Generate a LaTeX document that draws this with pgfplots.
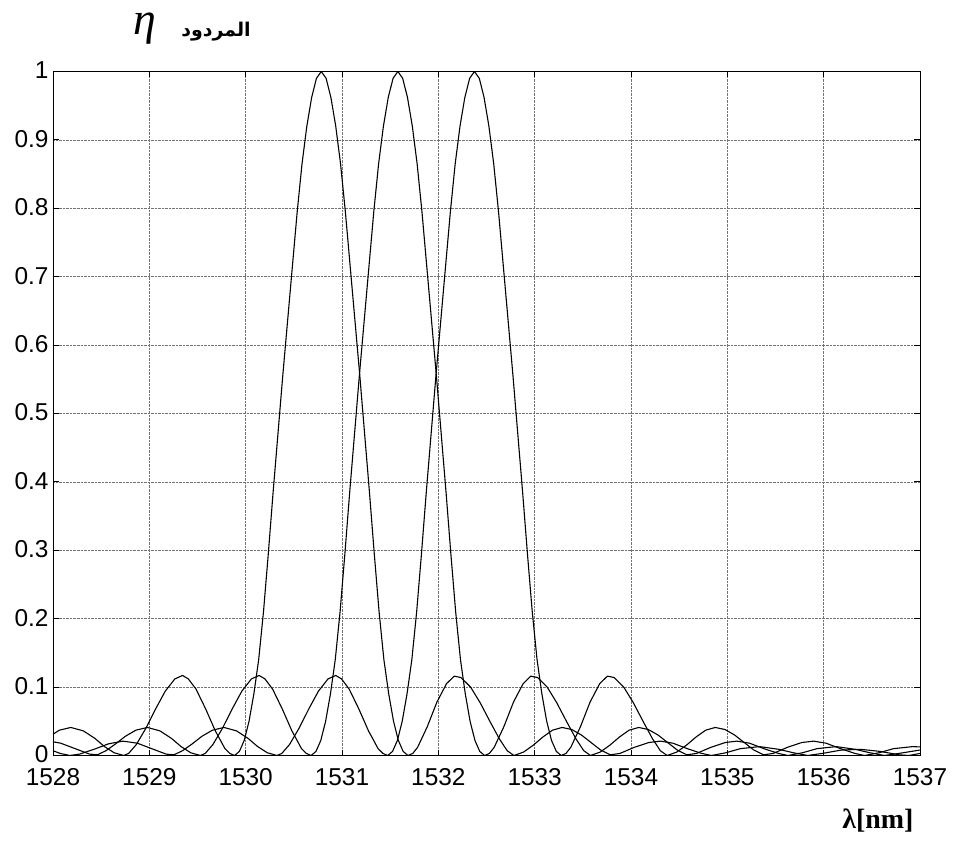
\documentclass[border=0pt]{standalone}
\usepackage{pgfplots}
\pgfplotsset{compat=1.18}
\usepackage{fontspec}
\setmainfont{Liberation Sans}
\newfontfamily\seriffont{Liberation Serif}
\newfontfamily\arabicfont[Script=Arabic]{DejaVu Sans}
\TeXXeTstate=1
\begin{document}
\begin{tikzpicture}
\path[use as bounding box] (-53bp,-92.5bp) rectangle (901bp,755.5bp);
\begin{axis}[
  at={(0,0)}, anchor=south west,
  scale only axis, width=867bp, height=684bp,
  xmin=1528, xmax=1537, ymin=0, ymax=1,
  xtick={1528,1529,1530,1531,1532,1533,1534,1535,1536,1537},
  xticklabels={1528,1529,1530,1531,1532,1533,1534,1535,1536,1537},
  ytick={0,0.1,0.2,0.3,0.4,0.5,0.6,0.7,0.8,0.9,1},
  yticklabels={0,0.1,0.2,0.3,0.4,0.5,0.6,0.7,0.8,0.9,1},
  tick align=inside, xtick pos=both, ytick pos=both,
  major tick length=6bp,
  grid=major,
  major grid style={densely dotted, black!55, line width=0.7bp},
  axis line style={black, line width=0.9bp},
  tick style={black, line width=0.8bp},
  tick label style={font=\fontsize{24.5}{29}\selectfont},
  xticklabel style={yshift=-9bp},
  yticklabel style={xshift=-1bp, yshift=1bp},
  /pgf/number format/assume math mode=true,
  clip=true,
]
\addplot[black, line width=1.1bp] coordinates {
(1528,0.031) (1528.065,0.037) (1528.185,0.041) (1528.315,0.036) (1528.435,0.025)
(1528.535,0.013) (1528.635,0.004) (1528.735,0) (1528.785,0.003) (1528.865,0.016)
(1528.965,0.04) (1529.065,0.068) (1529.165,0.094) (1529.265,0.112) (1529.345,0.117)
(1529.405,0.112) (1529.485,0.097) (1529.585,0.068) (1529.685,0.036) (1529.785,0.01)
(1529.835,0.003) (1529.885,0) (1529.935,0.006) (1529.985,0.022) (1530.035,0.05)
(1530.085,0.09) (1530.135,0.14) (1530.185,0.21) (1530.235,0.295) (1530.285,0.385)
(1530.335,0.47) (1530.385,0.555) (1530.435,0.635) (1530.485,0.715) (1530.535,0.795)
(1530.585,0.865) (1530.635,0.92) (1530.685,0.962) (1530.735,0.99) (1530.785,1)
(1530.835,0.99) (1530.885,0.962) (1530.935,0.92) (1530.985,0.865) (1531.035,0.795)
(1531.085,0.715) (1531.135,0.635) (1531.185,0.555) (1531.235,0.47) (1531.285,0.385)
(1531.335,0.295) (1531.385,0.21) (1531.435,0.14) (1531.485,0.09) (1531.535,0.05)
(1531.585,0.022) (1531.635,0.006) (1531.685,0) (1531.735,0.003) (1531.785,0.012)
(1531.885,0.042) (1531.985,0.078) (1532.085,0.105) (1532.165,0.116) (1532.235,0.114)
(1532.335,0.1) (1532.435,0.077) (1532.535,0.05) (1532.635,0.024) (1532.715,0.007)
(1532.785,0) (1532.885,0.005) (1532.985,0.015) (1533.085,0.027) (1533.185,0.037)
(1533.285,0.041) (1533.385,0.038) (1533.485,0.03) (1533.585,0.019) (1533.685,0.008)
(1533.785,0.001) (1533.885,0.003) (1534.035,0.012) (1534.185,0.019) (1534.305,0.021)
(1534.435,0.018) (1534.585,0.01) (1534.735,0.003) (1534.835,0) (1534.985,0.004)
(1535.135,0.01) (1535.335,0.013) (1535.535,0.009) (1535.685,0.004) (1535.835,0)
(1535.985,0.003) (1536.185,0.008) (1536.385,0.009) (1536.585,0.006) (1536.785,0.001)
(1536.885,0) (1537,0.003)
};
\addplot[black, line width=1.1bp] coordinates {
(1528,0.020) (1528.08,0.018) (1528.23,0.01) (1528.38,0.002) (1528.46,0.001)
(1528.55,0.007) (1528.65,0.017) (1528.75,0.028) (1528.86,0.037) (1528.98,0.041)
(1529.11,0.036) (1529.23,0.025) (1529.33,0.013) (1529.43,0.004) (1529.53,0)
(1529.58,0.003) (1529.66,0.016) (1529.76,0.04) (1529.86,0.068) (1529.96,0.094)
(1530.06,0.112) (1530.14,0.117) (1530.20,0.112) (1530.28,0.097) (1530.38,0.068)
(1530.48,0.036) (1530.58,0.01) (1530.63,0.003) (1530.68,0) (1530.73,0.006)
(1530.78,0.022) (1530.83,0.05) (1530.88,0.09) (1530.93,0.14) (1530.98,0.21)
(1531.03,0.295) (1531.08,0.385) (1531.13,0.47) (1531.18,0.555) (1531.23,0.635)
(1531.28,0.715) (1531.33,0.795) (1531.38,0.865) (1531.43,0.92) (1531.48,0.962)
(1531.53,0.99) (1531.58,1) (1531.63,0.99) (1531.68,0.962) (1531.73,0.92)
(1531.78,0.865) (1531.83,0.795) (1531.88,0.715) (1531.93,0.635) (1531.98,0.555)
(1532.03,0.47) (1532.08,0.385) (1532.13,0.295) (1532.18,0.21) (1532.23,0.14)
(1532.28,0.09) (1532.33,0.05) (1532.38,0.022) (1532.43,0.006) (1532.48,0)
(1532.53,0.003) (1532.58,0.012) (1532.68,0.042) (1532.78,0.078) (1532.88,0.105)
(1532.96,0.116) (1533.03,0.114) (1533.13,0.1) (1533.23,0.077) (1533.33,0.05)
(1533.43,0.024) (1533.51,0.007) (1533.58,0) (1533.68,0.005) (1533.78,0.015)
(1533.88,0.027) (1533.98,0.037) (1534.08,0.041) (1534.18,0.038) (1534.28,0.03)
(1534.38,0.019) (1534.48,0.008) (1534.58,0.001) (1534.68,0.003) (1534.83,0.012)
(1534.98,0.019) (1535.10,0.021) (1535.23,0.018) (1535.38,0.01) (1535.53,0.003)
(1535.63,0) (1535.78,0.004) (1535.93,0.01) (1536.13,0.013) (1536.33,0.009)
(1536.48,0.004) (1536.63,0) (1536.78,0.003) (1537,0.008)
};
\addplot[black, line width=1.1bp] coordinates {
(1528,0.007) (1528.075,0.003) (1528.175,0) (1528.275,0.002) (1528.425,0.009)
(1528.575,0.017) (1528.725,0.021) (1528.875,0.018) (1529.025,0.01) (1529.175,0.002)
(1529.255,0.001) (1529.345,0.007) (1529.445,0.017) (1529.545,0.028) (1529.655,0.037)
(1529.775,0.041) (1529.905,0.036) (1530.025,0.025) (1530.125,0.013) (1530.225,0.004)
(1530.325,0) (1530.375,0.003) (1530.455,0.016) (1530.555,0.04) (1530.655,0.068)
(1530.755,0.094) (1530.855,0.112) (1530.935,0.117) (1530.995,0.112) (1531.075,0.097)
(1531.175,0.068) (1531.275,0.036) (1531.375,0.01) (1531.425,0.003) (1531.475,0)
(1531.525,0.006) (1531.575,0.022) (1531.625,0.05) (1531.675,0.09) (1531.725,0.14)
(1531.775,0.21) (1531.825,0.295) (1531.875,0.385) (1531.925,0.47) (1531.975,0.555)
(1532.025,0.635) (1532.075,0.715) (1532.125,0.795) (1532.175,0.865) (1532.225,0.92)
(1532.275,0.962) (1532.325,0.99) (1532.375,1) (1532.425,0.99) (1532.475,0.962)
(1532.525,0.92) (1532.575,0.865) (1532.625,0.795) (1532.675,0.715) (1532.725,0.635)
(1532.775,0.555) (1532.825,0.47) (1532.875,0.385) (1532.925,0.295) (1532.975,0.21)
(1533.025,0.14) (1533.075,0.09) (1533.125,0.05) (1533.175,0.022) (1533.225,0.006)
(1533.275,0) (1533.325,0.003) (1533.375,0.012) (1533.475,0.042) (1533.575,0.078)
(1533.675,0.105) (1533.755,0.116) (1533.825,0.114) (1533.925,0.1) (1534.025,0.077)
(1534.125,0.05) (1534.225,0.024) (1534.305,0.007) (1534.375,0) (1534.475,0.005)
(1534.575,0.015) (1534.675,0.027) (1534.775,0.037) (1534.875,0.041) (1534.975,0.038)
(1535.075,0.03) (1535.175,0.019) (1535.275,0.008) (1535.375,0.001) (1535.475,0.003)
(1535.625,0.012) (1535.775,0.019) (1535.895,0.021) (1536.025,0.018) (1536.175,0.01)
(1536.325,0.003) (1536.425,0) (1536.575,0.004) (1536.725,0.01) (1536.925,0.013)
(1537,0.0125)
};
\end{axis}
\node[anchor=base, inner sep=0pt] at (92bp,721bp) {\fontsize{46}{50}\selectfont\seriffont\itshape η};
\node at (163bp,724bp) {\fontsize{19}{23}\selectfont\arabicfont\bfseries\beginR المردود\endR};
\node[anchor=east] at (864bp,-65bp) {\fontsize{28}{32}\selectfont\seriffont\bfseries λ[nm]};
\end{tikzpicture}
\end{document}
